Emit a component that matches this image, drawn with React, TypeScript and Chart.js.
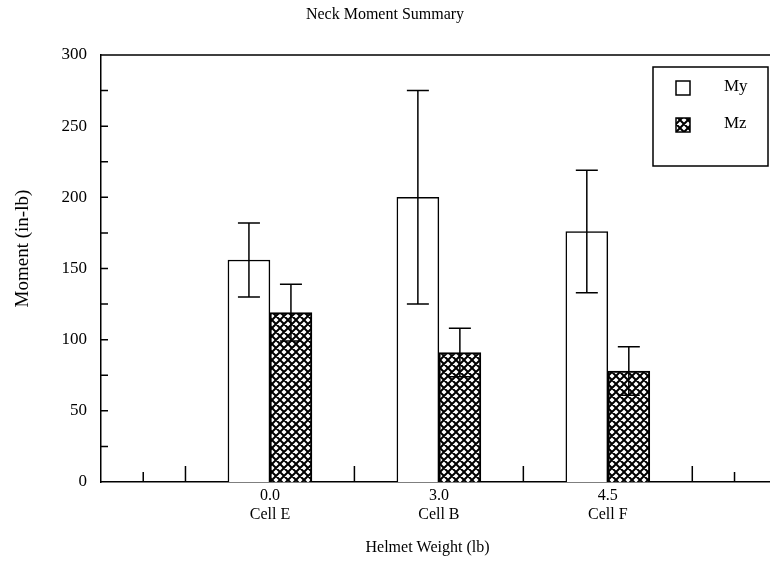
import React, { useEffect, useRef } from "react";
import { Chart, registerables } from "chart.js";

Chart.register(...registerables);

// ---- data ----
const chartTitle = "Neck Moment Summary";
const xAxisTitle = "Helmet Weight (lb)";
const yAxisTitle = "Moment (in-lb)";
const weightLabels = ["0.0", "3.0", "4.5"];
const cellLabels = ["Cell E", "Cell B", "Cell F"];
const groupPositions = [1, 2, 3];
const seriesNames = ["My", "Mz"];
const myValues = [156, 200, 176];
const myErrors = [26, 75, 43];
const mzValues = [119, 91, 78];
const mzErrors = [20, 17, 17];
const yTickValues = [0, 50, 100, 150, 200, 250, 300];
const yMinorTicks = [25, 50, 75, 100, 125, 150, 175, 200, 225, 250, 275];
const xMinorTicks = [0.25, 0.5, 1.5, 2.5, 3.5, 3.75];
const xMin = 0;
const xMax = 3.96;
const yMin = 0;
const yMax = 300;

const FONT = "'Liberation Serif', 'DejaVu Serif', serif";

function makeHatch(): CanvasPattern | string {
  const c = document.createElement("canvas");
  const s = 8;
  c.width = s;
  c.height = s;
  const g = c.getContext("2d");
  if (!g) return "#888";
  g.fillStyle = "#fff";
  g.fillRect(0, 0, s, s);
  g.strokeStyle = "#000";
  g.lineWidth = 2;
  g.beginPath();
  for (const k of [-s, 0, s]) {
    g.moveTo(-2, -2 + k);
    g.lineTo(s + 2, s + 2 + k);
    g.moveTo(s + 2, -2 + k);
    g.lineTo(-2, s + 2 + k);
  }
  g.stroke();
  const p = g.createPattern(c, "repeat");
  return p || "#888";
}

export default function App() {
  const ref = useRef<HTMLCanvasElement>(null);

  useEffect(() => {
    const canvas = ref.current;
    if (!canvas) return;
    const hatch = makeHatch();
    const errs = [myErrors, mzErrors];

    const decor = {
      id: "decor",
      beforeDatasetsDraw(chart: any) {
        const { ctx, chartArea } = chart;
        const x = chart.scales.x;
        const y = chart.scales.y;
        ctx.save();
        ctx.strokeStyle = "#000";
        ctx.lineWidth = 1.5;
        ctx.beginPath();
        const yTop = y.getPixelForValue(yMax);
        ctx.moveTo(chartArea.left, yTop);
        ctx.lineTo(chartArea.right, yTop);
        for (const v of yMinorTicks) {
          const py = y.getPixelForValue(v);
          ctx.moveTo(chartArea.left, py);
          ctx.lineTo(chartArea.left + 7, py);
        }
        for (const v of xMinorTicks) {
          const px = x.getPixelForValue(v);
          const len = Math.abs(v * 2 - Math.round(v * 2)) < 1e-6 ? 16 : 10;
          ctx.moveTo(px, chartArea.bottom);
          ctx.lineTo(px, chartArea.bottom - len);
        }
        ctx.stroke();
        ctx.restore();
      },
      afterDatasetsDraw(chart: any) {
        const { ctx } = chart;
        const y = chart.scales.y;
        ctx.save();
        ctx.strokeStyle = "#000";
        ctx.lineWidth = 1.5;
        ctx.beginPath();
        chart.data.datasets.forEach((ds: any, di: number) => {
          const meta = chart.getDatasetMeta(di);
          meta.data.forEach((bar: any, i: number) => {
            const v = ds.data[i].y;
            const e = errs[di][i];
            const hi = y.getPixelForValue(v + e);
            const lo = y.getPixelForValue(v - e);
            const cx = bar.x;
            ctx.moveTo(cx, hi);
            ctx.lineTo(cx, lo);
            ctx.moveTo(cx - 11, hi);
            ctx.lineTo(cx + 11, hi);
            ctx.moveTo(cx - 11, lo);
            ctx.lineTo(cx + 11, lo);
          });
        });
        ctx.stroke();
        ctx.restore();
      },
      afterDraw(chart: any) {
        const { ctx, chartArea, width } = chart;
        const y = chart.scales.y;
        ctx.save();
        ctx.fillStyle = "#000";
        ctx.font = `16px ${FONT}`;
        ctx.textAlign = "center";
        ctx.textBaseline = "middle";
        // chart title
        ctx.fillText(chartTitle, width / 2, 15);
        // x axis title
        ctx.fillText(xAxisTitle, (chartArea.left + chartArea.right) / 2 - 8, 548);
        // y axis title
        ctx.save();
        ctx.font = `19px ${FONT}`;
        ctx.translate(23, y.getPixelForValue(164));
        ctx.rotate(-Math.PI / 2);
        ctx.fillText(yAxisTitle, 0, 0);
        ctx.restore();
        // legend
        const bx = chartArea.right - 117;
        const by = y.getPixelForValue(yMax) + 12;
        ctx.strokeStyle = "#000";
        ctx.lineWidth = 1.5;
        ctx.strokeRect(bx, by, 115, 99);
        ctx.font = `17px ${FONT}`;
        chart.data.datasets.forEach((ds: any, di: number) => {
          const rowY = by + 21 + di * 37;
          ctx.fillStyle = ds.backgroundColor;
          ctx.fillRect(bx + 23, rowY - 7, 14, 14);
          ctx.lineWidth = 1.5;
          ctx.strokeRect(bx + 23, rowY - 7, 14, 14);
          ctx.fillStyle = "#000";
          ctx.textAlign = "left";
          ctx.fillText(seriesNames[di], bx + 71, rowY - 1);
        });
        ctx.restore();
      },
    };

    const chart = new Chart(canvas, {
      type: "bar",
      data: {
        datasets: [
          {
            label: seriesNames[0],
            data: groupPositions.map((p, i) => ({ x: p, y: myValues[i] })),
            backgroundColor: "#ffffff",
            borderColor: "#000000",
            borderWidth: 1.5,
            borderSkipped: "start",
            barThickness: 42,
          },
          {
            label: seriesNames[1],
            data: groupPositions.map((p, i) => ({ x: p, y: mzValues[i] })),
            backgroundColor: hatch as any,
            borderColor: "#000000",
            borderWidth: 2,
            borderSkipped: "start",
            barThickness: 42,
          },
        ],
      },
      options: {
        responsive: false,
        animation: false,
        devicePixelRatio: 1,
        layout: { padding: { top: 55, left: 0, right: 0, bottom: 0 } },
        plugins: {
          legend: { display: false },
          title: { display: false },
          tooltip: { enabled: false },
        },
        scales: {
          x: {
            type: "linear",
            min: xMin,
            max: xMax,
            offset: false,
            grid: { display: false, drawTicks: false, offset: false },
            border: { display: true, color: "#000", width: 1.5 },
            afterBuildTicks: (s: any) => {
              s.ticks = groupPositions.map((v) => ({ value: v }));
            },
            afterFit: (s: any) => {
              s.height = 82;
            },
            ticks: {
              autoSkip: false,
              maxRotation: 0,
              padding: 5,
              color: "#000",
              font: { family: FONT, size: 16, lineHeight: 1.15 },
              callback: (v: any) => {
                const i = groupPositions.indexOf(Number(v));
                return i >= 0 ? [weightLabels[i], cellLabels[i]] : "";
              },
            },
          },
          y: {
            type: "linear",
            min: yMin,
            max: yMax,
            grid: { display: false, drawTicks: false },
            border: { display: true, color: "#000", width: 1.5 },
            afterBuildTicks: (s: any) => {
              s.ticks = yTickValues.map((v) => ({ value: v }));
            },
            afterFit: (s: any) => {
              s.width = 101;
            },
            ticks: {
              padding: 14,
              color: "#000",
              font: { family: FONT, size: 17 },
            },
          },
        },
      } as any,
      plugins: [decor],
    });
    return () => chart.destroy();
  }, []);

  return (
    <div
      style={{
        position: "absolute",
        left: 0,
        top: 0,
        width: 770,
        height: 564,
        background: "#fff",
      }}
    >
      <canvas ref={ref} width={770} height={564} style={{ display: "block" }} />
    </div>
  );
}
